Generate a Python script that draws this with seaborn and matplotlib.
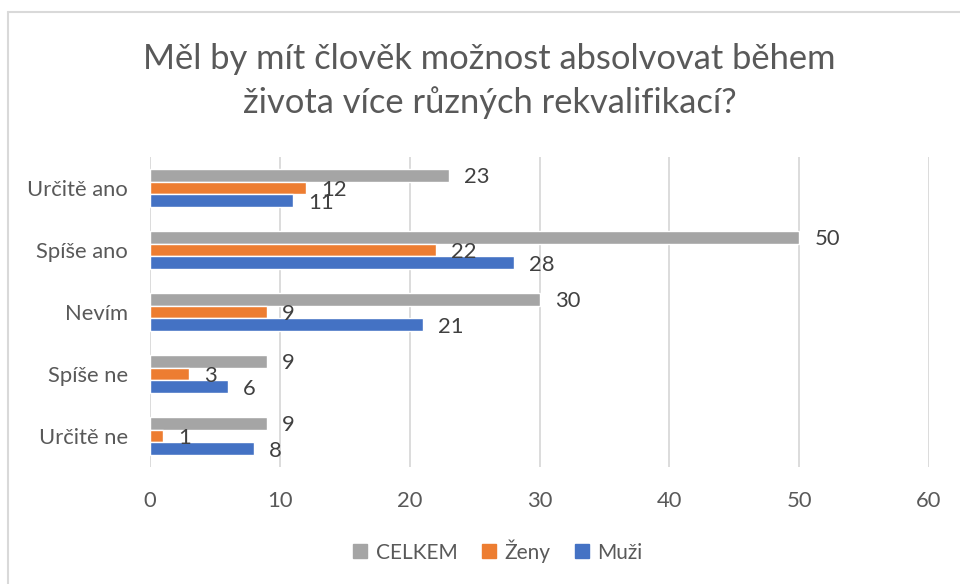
import pandas as pd
import seaborn as sns
import matplotlib.pyplot as plt
from matplotlib.lines import Line2D

# data
categories = ['Určitě ano', 'Spíše ano', 'Nevím', 'Spíše ne', 'Určitě ne']
celkem = [23, 50, 30, 9, 9]
zeny = [12, 22, 9, 3, 1]
muzi = [11, 28, 21, 6, 8]
series = ['CELKEM', 'Ženy', 'Muži']
colors = ['#A5A5A5', '#ED7D31', '#4472C4']

rows = []
for name, vals in zip(series, [celkem, zeny, muzi]):
    for cat, v in zip(categories, vals):
        rows.append({'kategorie': cat, 'skupina': name, 'pocet': v})
df = pd.DataFrame(rows)

sns.set_theme(style='white')
plt.rcParams['font.family'] = ['Lato', 'DejaVu Sans']

fig = plt.figure(figsize=(9.6, 5.84), dpi=100)
ax = fig.add_axes([150 / 960, 1 - 467 / 584, (929 - 150) / 960, (467 - 157) / 584])

sns.barplot(data=df, y='kategorie', x='pocet', hue='skupina', order=categories,
            hue_order=series, palette=colors, orient='h', width=0.62,
            saturation=1, ax=ax, legend=False)

for cont in ax.containers:
    labels = ax.bar_label(cont, padding=11, fontsize=15.8, color='#404040')
    for t in labels:
        t.set_y(-1.5)  # Excel puts the labels a touch lower

ax.set_xlim(0, 60)
ax.set_ylim(4.5, -0.5)
ax.set_xticks(range(0, 61, 10))
ax.xaxis.grid(True, color='#D9D9D9', linewidth=1.3)
ax.set_axisbelow(True)
for s in ax.spines.values():
    s.set_visible(False)
ax.set_xlabel('')
ax.set_ylabel('')
ax.tick_params(axis='both', length=0, labelsize=15.8, labelcolor='#595959')
ax.tick_params(axis='x', pad=17)
ax.tick_params(axis='y', pad=16)

fig.text(0.51, 1 - 81 / 584, 'Měl by mít člověk možnost absolvovat během\nživota více různých rekvalifikací?',
         ha='center', va='center', fontsize=24.8, color='#595959', linespacing=1.38)

handles = [Line2D([], [], marker='s', linestyle='', markersize=10, color=c) for c in colors]
fig.legend(handles, series, loc='center', bbox_to_anchor=(0.517, 1 - 551 / 584), ncol=3,
           frameon=False, fontsize=15, labelcolor='#595959', handletextpad=0.25,
           columnspacing=1.0, handlelength=1.0)

# chart frame (left and top edges visible)
fig.add_artist(Line2D([8 / 960, 8 / 960], [0, 1 - 12 / 584], transform=fig.transFigure,
                      color='#D9D9D9', linewidth=1.5))
fig.add_artist(Line2D([8 / 960, 1], [1 - 12 / 584, 1 - 12 / 584], transform=fig.transFigure,
                      color='#D9D9D9', linewidth=1.5))

fig.savefig('out.png', dpi=100, facecolor='white')
